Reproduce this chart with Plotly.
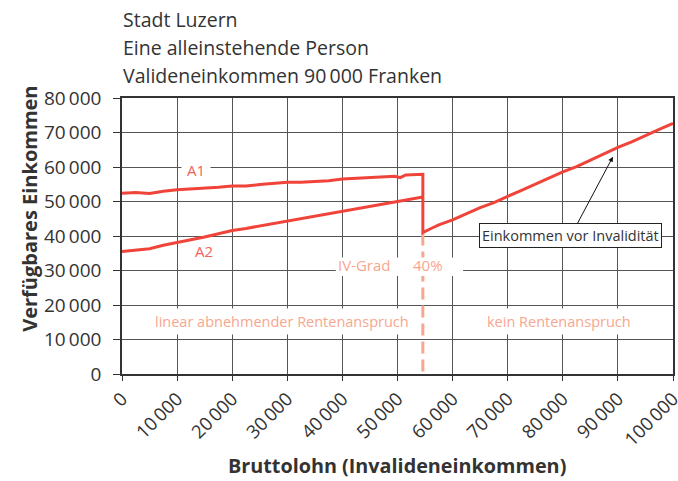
import plotly.graph_objects as go

# ---------------- data ----------------
a1_x = [0, 2500, 5000, 7500, 10000, 12500, 15000, 17500, 20000, 22500, 25000,
        27500, 30000, 32500, 35000, 37500, 40000, 42500, 45000, 47500, 49500,
        50500, 51500, 54600]
a1_y = [52400, 52600, 52300, 53000, 53400, 53600, 53900, 54100, 54500, 54500,
        54900, 55200, 55600, 55600, 55700, 56000, 56500, 56700, 56800, 57100,
        57300, 56900, 57700, 57900]

a2_x = [0, 2500, 5000, 7500, 10000, 12500, 15000, 17500, 20000, 22500, 25000,
        27500, 30000, 32500, 35000, 37500, 40000, 42500, 45000, 47500, 50000,
        52500, 54600]
a2_y = [35500, 35800, 36300, 37300, 38200, 38900, 39700, 40700, 41600, 42200,
        42900, 43600, 44300, 45000, 45700, 46300, 47100, 47700, 48500, 49300,
        50000, 50600, 51300]

rest_x = [54600, 56000, 57500, 60000, 62500, 65000, 67500, 68500, 70000, 72500,
          75000, 77500, 80000, 82500, 85000, 87500, 89500, 90000, 92500, 95000,
          97500, 100000]
rest_y = [41000, 42100, 43200, 44700, 46500, 48200, 49700, 50500, 51500, 53200,
          55000, 56700, 58600, 60100, 62000, 63700, 65400, 65700, 67300, 69000,
          70900, 72650]

iv_x = 54600          # IV-Grad 40 %
iv_top = 40700

x_ticks = [0, 10000, 20000, 30000, 40000, 50000, 60000, 70000, 80000, 90000, 100000]
x_labels = ["0", "10\u2009000", "20\u2009000", "30\u2009000", "40\u2009000", "50\u2009000",
            "60\u2009000", "70\u2009000", "80\u2009000", "90\u2009000", "100\u2009000"]
y_ticks = [0, 10000, 20000, 30000, 40000, 50000, 60000, 70000, 80000]
y_labels = ["0", "10\u2009000", "20\u2009000", "30\u2009000", "40\u2009000", "50\u2009000",
            "60\u2009000", "70\u2009000", "80\u2009000"]

title_lines = ["Stadt Luzern", "Eine alleinstehende Person", "Valideneinkommen 90\u2009000 Franken"]

# ---------------- styles ----------------
RED = "#F0443A"
LABEL_RED = "#F2635A"
SALMON = "#F8A68F"
TXT = "#333333"
GRID = "#555555"
FONT = "Open Sans"

fig = go.Figure()

fig.add_trace(go.Scatter(x=[iv_x, iv_x], y=[iv_top, 0], mode="lines",
                         line=dict(color=SALMON, width=3, dash="12px,6px"),
                         hoverinfo="skip", showlegend=False))
fig.add_trace(go.Scatter(x=a1_x + rest_x, y=a1_y + rest_y, mode="lines",
                         line=dict(color=RED, width=3), showlegend=False))
fig.add_trace(go.Scatter(x=a2_x, y=a2_y, mode="lines",
                         line=dict(color=RED, width=3), showlegend=False))

# white box behind IV-Grad / 40 %
fig.add_shape(type="rect", x0=38800, x1=61900, y0=28400, y1=33800,
              fillcolor="white", line=dict(width=0), layer="above")

ann = []
ys = [1.283, 1.183, 1.083]
for t, yy in zip(title_lines, ys):
    ann.append(dict(text=t, xref="paper", yref="paper", x=-0.002, y=yy,
                    xanchor="left", yanchor="middle", showarrow=False,
                    font=dict(size=19.5, color=TXT, family=FONT)))

ann.append(dict(text="A1", x=13500, y=59200, showarrow=False, bgcolor="white",
                borderpad=5, font=dict(size=15, color=LABEL_RED, family=FONT)))
ann.append(dict(text="A2", x=14800, y=35600, showarrow=False,
                font=dict(size=15, color=LABEL_RED, family=FONT)))
ann.append(dict(text="IV-Grad", x=44100, y=31700, showarrow=False,
                font=dict(size=15, color=SALMON, family=FONT)))
ann.append(dict(text="40%", x=55600, y=31700, showarrow=False,
                font=dict(size=15, color=SALMON, family=FONT)))
ann.append(dict(text="linear abnehmender Rentenanspruch", x=29000, y=15200,
                showarrow=False, bgcolor="white", borderpad=3,
                font=dict(size=14.5, color=SALMON, family=FONT)))
ann.append(dict(text="kein Rentenanspruch", x=79300, y=15200,
                showarrow=False, bgcolor="white", borderpad=3,
                font=dict(size=14.5, color=SALMON, family=FONT)))
ann.append(dict(text="Einkommen vor Invalidität", x=89100, y=63000,
                ax=-42, ay=79, showarrow=True, arrowhead=2, arrowsize=1,
                arrowwidth=1, arrowcolor="#111111", bgcolor="white",
                bordercolor="#222222", borderwidth=1, borderpad=2,
                font=dict(size=14.5, color=TXT, family=FONT)))
# axis titles
ann.append(dict(text="<b>Verfügbares Einkommen</b>", xref="paper", yref="paper",
                x=-0.168, y=0.60, xanchor="center", yanchor="middle",
                textangle=-90, showarrow=False,
                font=dict(size=20, color=TXT, family=FONT)))
ann.append(dict(text="<b>Bruttolohn (Invalideneinkommen)</b>", xref="paper", yref="paper",
                x=0.4985, y=-0.332, xanchor="center", yanchor="middle",
                showarrow=False,
                font=dict(size=19.8, color=TXT, family=FONT)))

fig.update_layout(
    width=678, height=481,
    margin=dict(l=122, r=5, t=98, b=107),
    paper_bgcolor="white", plot_bgcolor="white",
    annotations=ann,
    font=dict(family=FONT, color=TXT),
    xaxis=dict(range=[0, 100000], tickvals=x_ticks, ticktext=x_labels,
               tickangle=-45, tickfont=dict(size=18.5, color=TXT, family=FONT),
               ticklabeloverflow="allow",
               showgrid=True, gridcolor=GRID, gridwidth=1.2, automargin=False,
               showline=True, linecolor="#333333", linewidth=1.5, mirror=True,
               ticks="outside", ticklen=5, tickcolor="#333333",
               zeroline=False, fixedrange=True),
    yaxis=dict(range=[0, 80000], tickvals=y_ticks, ticktext=y_labels,
               tickfont=dict(size=19, color=TXT, family=FONT),
               ticklabeloverflow="allow", ticklabelstandoff=8,
               showgrid=True, gridcolor=GRID, gridwidth=1.2, automargin=False,
               showline=True, linecolor="#333333", linewidth=1.5, mirror=True,
               ticks="outside", ticklen=7, tickcolor="#333333",
               zeroline=False, fixedrange=True),
)

fig.write_html("out.html", config={"displayModeBar": False},
               post_script="document.body.style.margin='0px';document.body.style.overflow='hidden';")
